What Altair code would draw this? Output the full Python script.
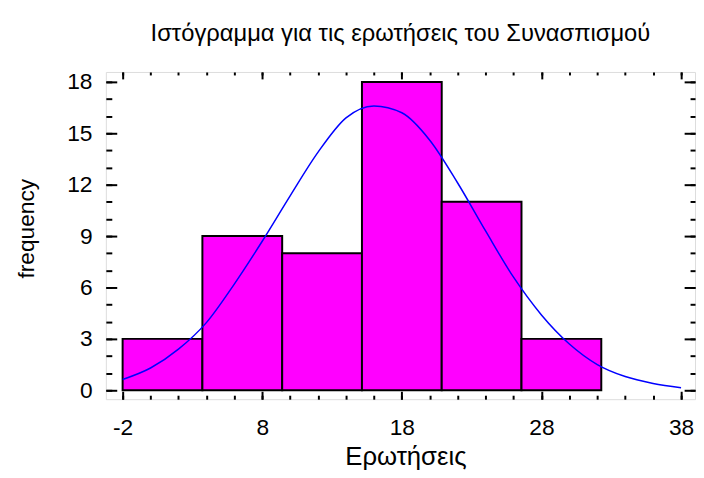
import altair as alt
import pandas as pd

# Histogram bins (class limits) and frequencies
bin_start = [-2.0, 3.714, 9.429, 15.143, 20.857, 26.571]
bin_end = [3.714, 9.429, 15.143, 20.857, 26.571, 32.286]
counts = [3, 9, 8, 18, 11, 3]

# Fitted curve
curve_x = [-2, 0, 2, 4, 6, 8, 10, 12, 14, 16, 18, 20, 22, 24, 26, 28, 30, 32, 34, 36, 38]
curve_y = [0.63, 1.3, 2.4, 3.95, 6.2, 8.7, 11.35, 13.9, 15.9, 16.6, 16.2, 14.6, 12.1,
           9.3, 6.6, 4.4, 2.7, 1.5, 0.8, 0.4, 0.15]

# Axis ticks
x_major = [-2, 8, 18, 28, 38]
x_minor = [-2, 0, 2, 4, 6, 8, 10, 12, 14, 16, 18, 20, 22, 24, 26, 28, 30, 32, 34, 36, 38]
y_major = [0, 3, 6, 9, 12, 15, 18]
y_minor = list(range(0, 19))

title_text = "Ιστόγραμμα για τις ερωτήσεις του Συνασπισμού"
x_title = "Ερωτήσεις"
y_title = "frequency"

bars_df = pd.DataFrame({"start": bin_start, "end": bin_end, "count": counts})
curve_df = pd.DataFrame({"x": curve_x, "y": curve_y})

FONT = "Liberation Sans"
xs = alt.Scale(domain=[-3.2, 39], nice=False, zero=False)
ys = alt.Scale(domain=[-0.52, 18.58], nice=False, zero=False)

def tick_axis(orient, values, size):
    return alt.Axis(orient=orient, values=values, offset=-size, tickSize=size,
                    tickWidth=2, tickColor="black", labels=False, domain=False,
                    grid=False, title=None)

bars = alt.Chart(bars_df).mark_rect(fill="#FF00FF", stroke="black", strokeWidth=2).encode(
    x=alt.X("start:Q", scale=xs,
            axis=alt.Axis(orient="bottom", values=x_major, ticks=False, tickSize=0,
                          domain=False, grid=False, labelPadding=36, labelFontSize=23,
                          labelBaseline="alphabetic", labelExpr="'' + datum.value",
                          labelFont=FONT, labelColor="black", title=x_title,
                          titleFont=FONT, titleFontSize=26, titleFontWeight="normal",
                          titleColor="black", titleY=66, titleX=303,
                          titleBaseline="alphabetic")),
    x2="end:Q",
    y=alt.Y("count:Q", scale=ys,
            axis=alt.Axis(orient="left", values=y_major, ticks=False, tickSize=0,
                          domain=False, grid=False, labelPadding=14, labelFontSize=23,
                          labelFont=FONT, labelColor="black", title=y_title,
                          titleFont=FONT, titleFontSize=23, titleFontWeight="normal",
                          titleColor="black", titleX=-80, titleY=158,
                          titleBaseline="middle")),
    y2=alt.datum(0),
)

curve = alt.Chart(curve_df).mark_line(color="#0000FF", strokeWidth=1.5, interpolate="monotone").encode(
    x=alt.X("x:Q", scale=xs, axis=tick_axis("bottom", x_major, 8)),
    y=alt.Y("y:Q", scale=ys, axis=tick_axis("left", y_major, 11)),
)

def dummy(xaxis, yaxis):
    return alt.Chart(curve_df).mark_line(opacity=0).encode(
        x=alt.X("x:Q", scale=xs, axis=xaxis),
        y=alt.Y("y:Q", scale=ys, axis=yaxis),
    )

l3 = dummy(tick_axis("bottom", x_minor, 4), tick_axis("left", y_minor, 6))
l4 = dummy(tick_axis("top", x_major, 7), tick_axis("right", y_major, 11))
l5 = dummy(tick_axis("top", x_minor, 3), tick_axis("right", y_minor, 5))

chart = alt.layer(bars, curve, l3, l4, l5).resolve_axis(x="independent", y="independent").properties(
    width=596, height=331,
    title=alt.TitleParams(title_text, font=FONT, fontSize=24, fontWeight="normal",
                          color="black", anchor="middle", offset=25),
    autosize=alt.AutoSizeParams(type="none"),
    padding={"left": 99, "top": 62, "right": 1, "bottom": 77},
).configure_view(stroke="black", strokeWidth=2).configure(background="white")

chart.save("out.html", embed_options={"renderer": "svg", "actions": False})
